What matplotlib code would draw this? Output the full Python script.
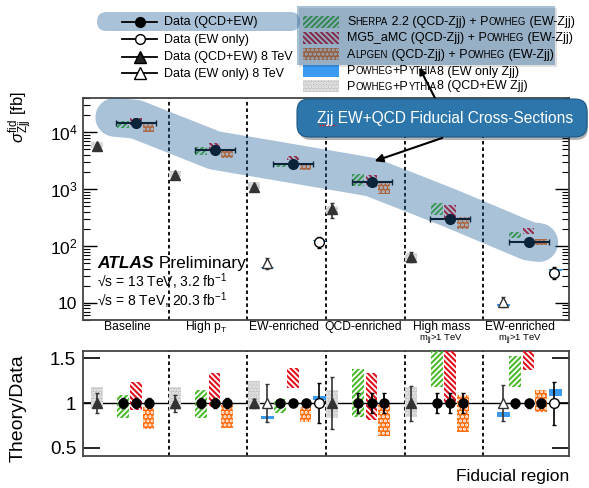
import numpy as np
import matplotlib
matplotlib.use('Agg')
import matplotlib.pyplot as plt
from matplotlib.patches import Rectangle, FancyBboxPatch
from matplotlib.lines import Line2D
import matplotlib.transforms as mtransforms

plt.rcParams['font.family'] = ['Liberation Sans', 'DejaVu Sans']
plt.rcParams['mathtext.fontset'] = 'custom'
plt.rcParams['mathtext.rm'] = 'Liberation Sans'
plt.rcParams['mathtext.it'] = 'Liberation Sans:italic'
plt.rcParams['mathtext.bf'] = 'Liberation Sans:bold'
plt.rcParams['hatch.linewidth'] = 1.5

# ---- data ----
regions = ['Baseline', 'High p$_{\\mathrm{T}}$', 'EW-enriched', 'QCD-enriched',
           'High mass', 'EW-enriched']
region_sub = ['', '', '', '', 'm$_{\\mathrm{jj}}$>1 TeV', 'm$_{\\mathrm{jj}}$>1 TeV']

# 13 TeV data (QCD+EW), fb, and relative error
xsec13 = [14400, 4800, 2750, 1320, 295, 117]
err13 = [0.06, 0.055, 0.04, 0.11, 0.11, 0.05]

# 8 TeV data (QCD+EW), last region not measured
xsec8 = [5650, 1760, 1085, 446, 65, np.nan]
err8 = [0.115, 0.095, 0.05, 0.29, 0.195, np.nan]
pythia8_lo = [0.93, 0.92, 0.94, 0.83, 0.85, np.nan]
pythia8_hi = [1.18, 1.18, 1.25, 1.14, 1.18, np.nan]

# EW-only measurements (EW-enriched regions)
ew_regions = [2, 5]
ew8 = [50, 10.5]
ew8_err = [0.215, 0.205]
ew8_lo = [0.82, 0.84]
ew8_hi = [0.855, 0.90]
ew13 = [119, 34]
ew13_err = [0.22, 0.24]
ew13_lo = [1.03, 1.08]
ew13_hi = [1.08, 1.16]

# theory / data bands
sherpa_lo = [0.83, 0.83, 0.89, 0.85, 1.18, 1.18]
sherpa_hi = [1.09, 1.14, 1.05, 1.38, 1.90, 1.52]
mg5_lo = [0.92, 0.96, 1.17, 0.81, 1.00, 1.37]
mg5_hi = [1.24, 1.33, 1.39, 1.34, 1.75, 1.79]
alpgen_lo = [0.71, 0.72, 0.79, 0.63, 0.68, 0.90]
alpgen_hi = [0.96, 0.98, 0.96, 0.98, 1.09, 1.14]

# highlight band drawn over the 13 TeV points
band_x = [0.31, 0.58, 1.58, 2.58, 3.58, 4.58, 5.58, 5.71]
band_y = [18300, 16900, 4800, 2800, 1620, 464, 122, 115]

# ---- figure ----
W, H = 589, 488
fig = plt.figure(figsize=(W / 100, H / 100), dpi=100, facecolor='white')


def pix_axes(x0, y0, x1, y1):
    return [x0 / W, 1 - y1 / H, (x1 - x0) / W, (y1 - y0) / H]


ax = fig.add_axes(pix_axes(83, 98, 569, 320))
ax2 = fig.add_axes(pix_axes(83, 351, 569, 456))

GREEN = '#4cbb2f'
RED = '#e0101e'
ORANGE = '#ff6a0a'
BLUE = '#3a9af0'
GREY = '#c4c4c4'
models = [(sherpa_lo, sherpa_hi, dict(facecolor='none', edgecolor=GREEN, hatch='//////', lw=0)),
          (mg5_lo, mg5_hi, dict(facecolor='none', edgecolor=RED, hatch='\\\\\\\\\\\\', lw=0)),
          (alpgen_lo, alpgen_hi, dict(facecolor=ORANGE, edgecolor='white', hatch='....', lw=0))]
grey_style = dict(facecolor=GREY, edgecolor='#eeeeee', hatch='.....', lw=0)
circ_off = [0.41, 0.58, 0.74]
bw = 0.15

for i in range(6):
    v = xsec13[i]
    for j, (lo, hi, st) in enumerate(models):
        x = i + circ_off[j]
        ax.add_patch(Rectangle((x - bw / 2, v * lo[i]), bw, v * (hi[i] - lo[i]), zorder=3, **st))
        ax2.add_patch(Rectangle((x - bw / 2, lo[i]), bw, hi[i] - lo[i], zorder=3, **st))
        ax2.errorbar(x, 1, yerr=err13[i], fmt='o', color='black', ms=6.5, lw=1.3,
                     capsize=1.5, zorder=6)
    ax.errorbar(i + 0.58, v, yerr=v * err13[i], xerr=[[0.25], [0.26]], fmt='o',
                color='black', ms=7, lw=1.5, capsize=2, zorder=6)
    if not np.isnan(xsec8[i]):
        x = i + 0.08
        ax.add_patch(Rectangle((x - bw / 2, xsec8[i] * pythia8_lo[i]), bw,
                               xsec8[i] * (pythia8_hi[i] - pythia8_lo[i]), zorder=3, **grey_style))
        ax.errorbar(x, xsec8[i], yerr=xsec8[i] * err8[i], fmt='^', color='#333333',
                    ms=6.5, lw=1.2, capsize=1.5, zorder=6)
        ax2.add_patch(Rectangle((x - bw / 2, pythia8_lo[i]), bw,
                                pythia8_hi[i] - pythia8_lo[i], zorder=3, **grey_style))
        ax2.errorbar(x, 1, yerr=err8[i], fmt='^', color='#333333', ms=6.5, lw=1.2,
                     capsize=1.5, zorder=6)

for k, i in enumerate(ew_regions):
    x = i + 0.25
    ax.add_patch(Rectangle((x - bw / 2, ew8[k] * ew8_lo[k]), bw * 1.1,
                           ew8[k] * (ew8_hi[k] - ew8_lo[k]), color=BLUE, lw=0, zorder=3))
    ax.errorbar(x, ew8[k], yerr=ew8[k] * ew8_err[k], fmt='^', mfc='white', mec='#333333',
                color='#333333', ms=6.5, lw=1.2, capsize=1.5, zorder=6)
    ax2.add_patch(Rectangle((x - bw / 2, ew8_lo[k]), bw * 1.1, ew8_hi[k] - ew8_lo[k],
                            color=BLUE, lw=0, zorder=3))
    ax2.errorbar(x, 1, yerr=ew8_err[k], fmt='^', mfc='white', mec='#333333',
                 color='#333333', ms=6.5, lw=1.2, capsize=1.5, zorder=6)
    x = i + 0.91
    ax.add_patch(Rectangle((x - bw / 2, ew13[k] * ew13_lo[k]), bw * 1.1,
                           ew13[k] * (ew13_hi[k] - ew13_lo[k]), color=BLUE, lw=0, zorder=3))
    ax.errorbar(x, ew13[k], yerr=ew13[k] * ew13_err[k], fmt='o', mfc='white', mec='black',
                color='black', ms=7, lw=1.2, capsize=1.5, zorder=6)
    ax2.add_patch(Rectangle((x - bw / 2, ew13_lo[k]), bw * 1.1, ew13_hi[k] - ew13_lo[k],
                            color=BLUE, lw=0, zorder=3))
    ax2.errorbar(x, 1, yerr=ew13_err[k], fmt='o', mfc='white', mec='black',
                 color='black', ms=7, lw=1.2, capsize=1.5, zorder=6)

# translucent highlight over the 13 TeV points
ax.plot(band_x, band_y, color='#1f5f99', alpha=0.38, lw=28, solid_capstyle='round',
        solid_joinstyle='round', zorder=20)

# axes styling
for a in (ax, ax2):
    a.set_xlim(-0.095, 6.095)
    a.set_xticks([])
    for sp in a.spines.values():
        sp.set_color('#444444')
        sp.set_linewidth(1.3)
    for s in range(1, 6):
        a.axvline(s, color='black', lw=1.3, ls=(0, (2, 1.6)), zorder=2)

ax.set_yscale('log')
ax.set_ylim(5, 4e4)
ax.set_yticks([10, 100, 1000, 10000])
ax.set_yticklabels(['10', '$10^{2}$', '$10^{3}$', '$10^{4}$'], fontsize=12.5)
ax.tick_params(axis='y', which='major', direction='in', length=10, width=1, right=True, pad=4)
ax.tick_params(axis='y', which='minor', direction='in', length=5, width=0.8, right=True)

ax2.set_ylim(0.41, 1.58)
ax2.set_yticks([0.5, 1, 1.5])
ax2.set_yticklabels(['0.5', '1', '1.5'], fontsize=13.5)
ax2.tick_params(axis='y', direction='in', length=12, width=1.2, right=True, pad=5)
ax2.axhline(1, color='black', lw=1, zorder=2)

trans = mtransforms.blended_transform_factory(ax.transData, ax.transAxes)
for i in range(6):
    ax.text(i + 0.47, -0.033, regions[i], transform=trans, ha='center', va='center',
            fontsize=8.7)
    if region_sub[i]:
        ax.text(i + 0.47, -0.09, region_sub[i], transform=trans, ha='center', va='center',
                fontsize=6.8)

fig.text(21 / W, 1 - 117 / H, '$\\sigma^{\\mathrm{fid}}_{\\mathrm{Zjj}}$ [fb]', rotation=90,
         ha='center', va='center', fontsize=12)
fig.text(18 / W, 1 - 408 / H, 'Theory/Data', rotation=90, ha='center', va='center', fontsize=14)
fig.text(569 / W, 1 - 477 / H, 'Fiducial region', ha='right', va='center', fontsize=12.5)

# ---- overlay for legend, labels and callouts (pixel coordinates) ----
ov = fig.add_axes([0, 0, 1, 1])
ov.set_xlim(0, W)
ov.set_ylim(H, 0)
ov.axis('off')
ov.set_zorder(5)
renderer = fig.canvas.get_renderer()


def chain_text(x, y, parts, **kw):
    for s, size, extra in parts:
        t = ov.text(x, y, s, fontsize=size, va='baseline', **extra, **kw)
        x += t.get_window_extent(renderer).width


# ATLAS label
chain_text(97, 268, [('ATLAS', 12.5, dict(fontweight='bold', fontstyle='italic')),
                     (' Preliminary', 12.5, {})])
ov.text(97, 287, '√s = 13 TeV, 3.2 fb$^{-1}$', fontsize=10, va='baseline')
ov.text(97, 306, '√s = 8 TeV, 20.3 fb$^{-1}$', fontsize=10, va='baseline')

# left legend
hl = '#1f5f99'
ov.add_patch(FancyBboxPatch((97, 12), 203, 19, boxstyle='round,pad=0,rounding_size=9.5',
                            facecolor=hl, alpha=0.38, lw=0))
leg_rows = [21.7, 39.3, 56.7, 73.3]
leg_text = ['Data (QCD+EW)', 'Data (EW only)', 'Data (QCD+EW) 8 TeV', 'Data (EW only) 8 TeV']
leg_mk = [('o', 'black'), ('o', 'white'), ('^', '#222222'), ('^', 'white')]
for yy, txt, (m, fc) in zip(leg_rows, leg_text, leg_mk):
    ov.add_line(Line2D([122, 157], [yy, yy], color='black', lw=1.3))
    ov.plot(139.5, yy, marker=m, mfc=fc, mec='black', ms=7 if m == 'o' else 8)
    ov.text(164, yy + 3.5, txt, fontsize=9, va='baseline')

# right legend
rrows = [21.7, 37.7, 54.3, 71, 86]
box_styles = [dict(facecolor='none', edgecolor=GREEN, hatch='//////', lw=0),
              dict(facecolor='none', edgecolor=RED, hatch='\\\\\\\\\\\\', lw=0),
              dict(facecolor=ORANGE, edgecolor='white', hatch='....', lw=0),
              dict(facecolor=BLUE, lw=0),
              grey_style]
S, s = 9, 6.9
rtext = [[('S', S), ('HERPA', s), (' 2.2 (QCD-Zjj) + P', S), ('OWHEG', s), (' (EW-Zjj)', S)],
         [('MG5_aMC (QCD-Zjj) + P', S), ('OWHEG', s), (' (EW-Zjj)', S)],
         [('A', S), ('LPGEN', s), (' (QCD-Zjj) + P', S), ('OWHEG', s), (' (EW-Zjj)', S)],
         [('P', S), ('OWHEG', s), ('+P', S), ('YTHIA', s), ('8 (EW only Zjj)', S)],
         [('P', S), ('OWHEG', s), ('+P', S), ('YTHIA', s), ('8 (QCD+EW Zjj)', S)]]
for yy, st, parts in zip(rrows, box_styles, rtext):
    ov.add_patch(Rectangle((303, yy - 6), 36, 12, **st))
    chain_text(347, yy + 3.5, [(p, sz, {}) for p, sz in parts])

ov.add_patch(Rectangle((299, 8), 258, 59, facecolor='black', alpha=0.12, lw=0))
ov.add_patch(Rectangle((297, 6), 258, 59, facecolor=hl, alpha=0.38, lw=0))

# callout box
ov.annotate('', xy=(418, 65), xytext=(436, 100),
            arrowprops=dict(arrowstyle='-|>', color='black', lw=1.5, mutation_scale=10))
ov.add_patch(FancyBboxPatch((299, 102), 289, 38, boxstyle='round,pad=0,rounding_size=12',
                            facecolor='black', alpha=0.3, lw=0))
ov.add_patch(FancyBboxPatch((297, 99), 290, 38, boxstyle='round,pad=0,rounding_size=12',
                            facecolor='#2c76ab', edgecolor='#1d5a85', lw=0.8))
ov.text(445, 118, 'Zjj EW+QCD Fiducial Cross-Sections', color='white', fontsize=11.2,
        ha='center', va='center')
ov.plot([319, 336], [125, 125], color='red', lw=1, ls=(0, (1, 1)))
ov.annotate('', xy=(372, 162), xytext=(445, 137),
            arrowprops=dict(arrowstyle='-|>', color='black', lw=1.5, mutation_scale=12))

fig.savefig('out.png', dpi=100)
